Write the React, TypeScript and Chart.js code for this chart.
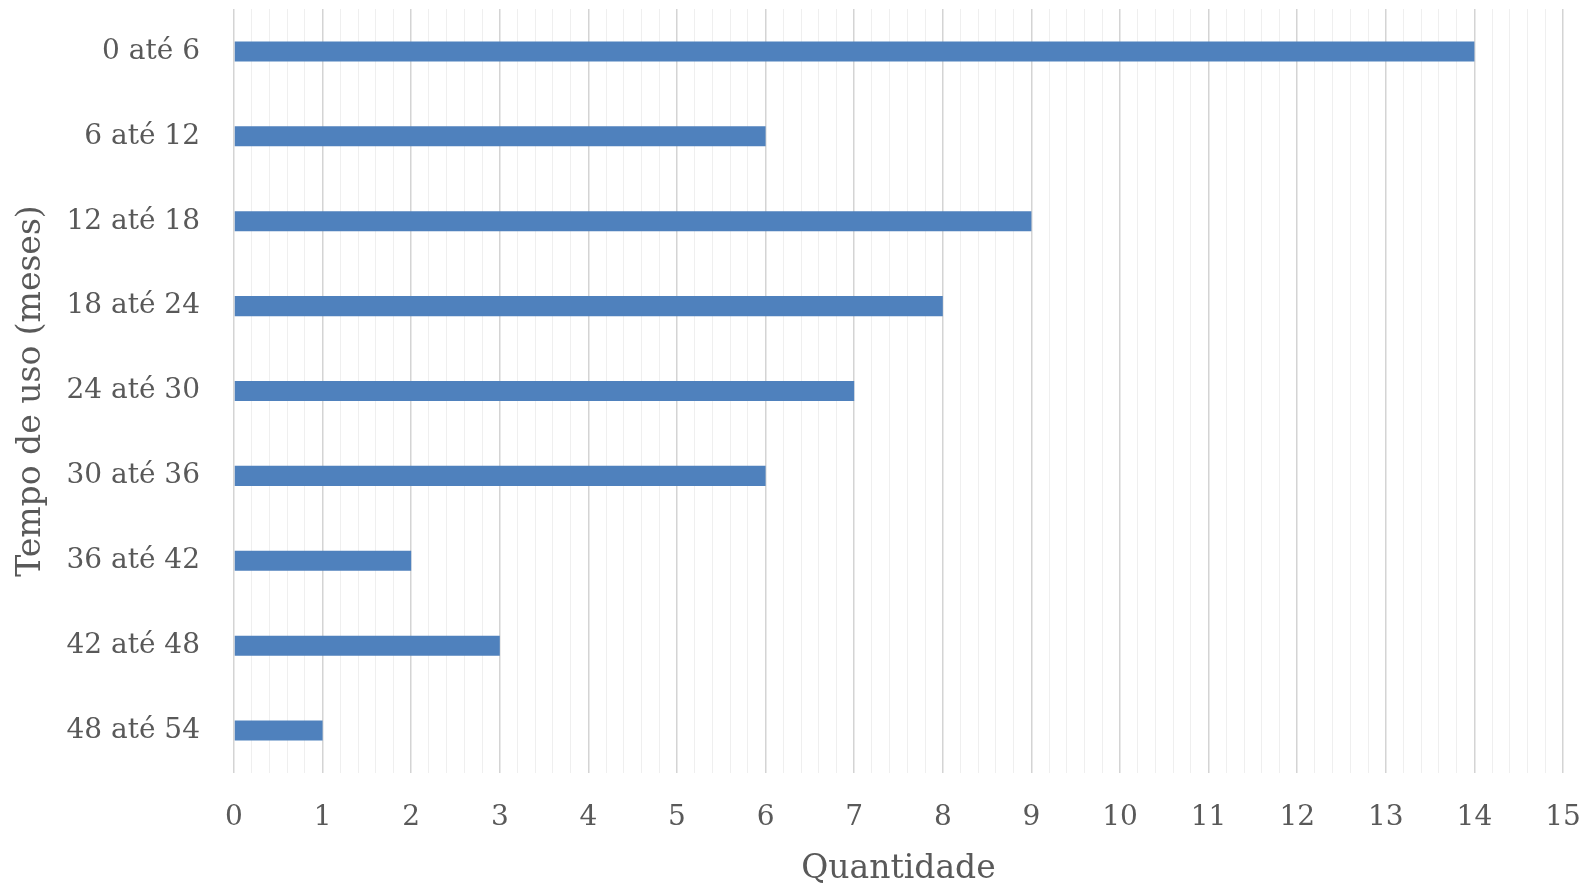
import React, { useEffect, useRef } from "react";
import { Chart, registerables } from "chart.js";

Chart.register(...registerables);

const categories = [
  "0 até 6",
  "6 até 12",
  "12 até 18",
  "18 até 24",
  "24 até 30",
  "30 até 36",
  "36 até 42",
  "42 até 48",
  "48 até 54",
];
const quantities = [14, 6, 9, 8, 7, 6, 2, 3, 1];
const xMin = 0;
const xMax = 15;
const minorStep = 0.2;
const xTitle = "Quantidade";
const yTitle = "Tempo de uso (meses)";

const FONT = "'DejaVu Serif', serif";
const TEXT = "#595959";

function isMajor(v: number) {
  return Math.abs(v - Math.round(v)) < 1e-6;
}

function clearPadding(scale: any) {
  scale.paddingTop = 0;
  scale.paddingBottom = 0;
  scale.paddingLeft = 0;
  scale.paddingRight = 0;
}

export default function App() {
  const ref = useRef<HTMLCanvasElement | null>(null);
  useEffect(() => {
    document.body.style.margin = "0";
    const chart = new Chart(ref.current!, {
      type: "bar",
      data: {
        labels: categories,
        datasets: [
          {
            data: quantities,
            backgroundColor: "#4f81bd",
            borderWidth: 0,
            categoryPercentage: 1,
            barPercentage: 0.236,
          },
        ],
      },
      options: {
        indexAxis: "y",
        animation: false,
        responsive: false,
        maintainAspectRatio: false,
        layout: { padding: { top: 9, right: 23, bottom: 0, left: 0 } },
        plugins: { legend: { display: false }, tooltip: { enabled: false } },
        scales: {
          x: {
            min: xMin,
            max: xMax,
            border: { display: false },
            afterFit: (scale: any) => {
              clearPadding(scale);
              scale.height = 117;
            },
            grid: {
              drawTicks: false,
              color: (ctx: any) =>
                ctx.tick && isMajor(ctx.tick.value) ? "#d4d4d4" : "#efefef",
              lineWidth: (ctx: any) =>
                ctx.tick && isMajor(ctx.tick.value) ? 1.5 : 1,
            },
            ticks: {
              stepSize: minorStep,
              autoSkip: false,
              maxRotation: 0,
              padding: 28,
              color: TEXT,
              font: { family: FONT, size: 28 },
              callback: (v: any) => (isMajor(Number(v)) ? String(Math.round(Number(v))) : ""),
            },
            title: {
              display: true,
              text: xTitle,
              color: TEXT,
              font: { family: FONT, size: 33 },
              padding: { top: 18, bottom: 1 },
            },
          },
          y: {
            border: { display: false },
            afterFit: (scale: any) => {
              clearPadding(scale);
              scale.width = 234;
            },
            grid: { display: false, drawTicks: false },
            ticks: {
              padding: 34,
              color: TEXT,
              font: { family: FONT, size: 28 },
            },
            title: {
              display: true,
              text: yTitle,
              color: TEXT,
              font: { family: FONT, size: 33 },
              padding: { top: 12, bottom: 16 },
            },
          },
        },
      },
    });
    return () => chart.destroy();
  }, []);
  return (
    <div style={{ width: 1586, height: 890, background: "#fff" }}>
      <canvas ref={ref} width={1586} height={890} style={{ display: "block" }} />
    </div>
  );
}
